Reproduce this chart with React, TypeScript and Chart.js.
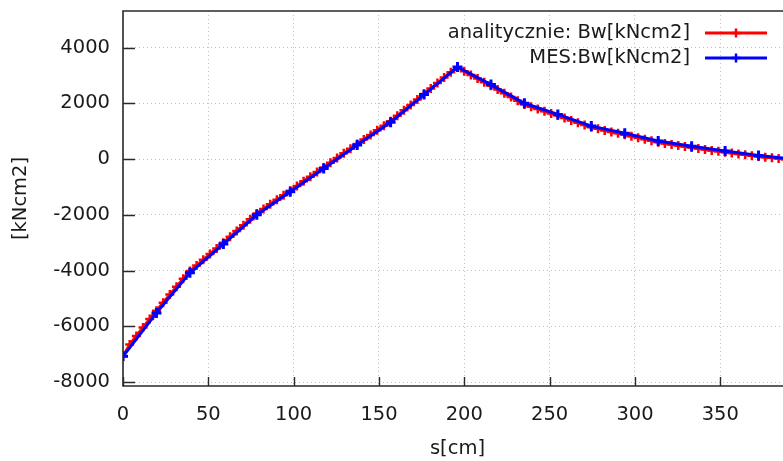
import React, { useEffect, useRef } from "react";
import { Chart, registerables } from "chart.js";

Chart.register(...registerables);

// ---- data ----
const sAnalytic = [
  0, 3.92, 7.84, 11.76, 15.68, 19.6, 23.52, 27.44, 31.36, 35.28, 39.2, 43.12, 47.04, 50.96, 54.88,
  58.8, 62.72, 66.64, 70.56, 74.48, 78.4, 82.32, 86.24, 90.16, 94.08, 98, 101.92, 105.84, 109.76,
  113.68, 117.6, 121.52, 125.44, 129.36, 133.28, 137.2, 141.12, 145.04, 148.96, 152.88, 156.8,
  160.72, 164.64, 168.56, 172.48, 176.4, 180.32, 184.24, 188.16, 192.08, 196, 199.92, 203.84,
  207.76, 211.68, 215.6, 219.52, 223.44, 227.36, 231.28, 235.2, 239.12, 243.04, 246.96, 250.88,
  254.8, 258.72, 262.64, 266.56, 270.48, 274.4, 278.32, 282.24, 286.16, 290.08, 294, 297.92,
  301.84, 305.76, 309.68, 313.6, 317.52, 321.44, 325.36, 329.28, 333.2, 337.12, 341.04, 344.96,
  348.88, 352.8, 356.72, 360.64, 364.56, 368.48, 372.4, 376.32, 380.24, 384.16, 388.08, 392,
];
const bwAnalytic = [
  -7080, -6654, -6348, -6042, -5736, -5440, -5152, -4864, -4581, -4298, -4020, -3824, -3618,
  -3412, -3206, -3000, -2790, -2582, -2372, -2162, -1955, -1791, -1626, -1462, -1297, -1135,
  -968, -801, -634, -468, -301, -132, 36, 203, 371, 538, 700, 864, 1028, 1190, 1354, 1550, 1746,
  1942, 2138, 2334, 2528, 2724, 2920, 3114, 3290, 3150, 3015, 2885, 2755, 2629, 2490, 2355,
  2222, 2090, 1960, 1875, 1792, 1712, 1635, 1560, 1472, 1386, 1302, 1220, 1140, 1082, 1026, 971,
  920, 870, 814, 760, 705, 652, 600, 560, 521, 483, 446, 410, 375, 341, 308, 276, 245, 213, 182,
  151, 120, 90, 66, 42, 18, -6, -30,
];
const sMES = [
  0, 19.6, 39.2, 58.8, 78.4, 98, 117.6, 137.2, 156.8, 176.4, 196, 215.6, 235.2, 254.8, 274.4,
  294, 313.6, 333.2, 352.8, 372.4, 392,
];
const bwMES = [
  -7080, -5520, -4080, -3050, -2000, -1178, -343, 500, 1321, 2310, 3300, 2670, 2000, 1600, 1180,
  925, 645, 455, 286, 130, 0,
];
const xTicks = [0, 50, 100, 150, 200, 250, 300, 350];
const yTicks = [-8000, -6000, -4000, -2000, 0, 2000, 4000];
const seriesLabels = ["analitycznie: Bw[kNcm2]", "MES:Bw[kNcm2]"];
const seriesColors = ["#ff0000", "#0000ff"];
const xTitle = "s[cm]";
const yTitle = "[kNcm2]";

const FONT = '"DejaVu Sans", Verdana, sans-serif';
const FSIZE = 19.5;

const framePlugin = {
  id: "gpFrame",
  afterDatasetsDraw(chart: any) {
    const { ctx, chartArea: a, scales } = chart;
    ctx.save();
    ctx.strokeStyle = "#2a2a2a";
    ctx.lineWidth = 1.6;
    ctx.beginPath();
    ctx.moveTo(a.left, a.top);
    ctx.lineTo(a.right, a.top);
    ctx.lineTo(a.right, a.bottom);
    ctx.lineTo(a.left, a.bottom);
    ctx.closePath();
    ctx.stroke();
    ctx.lineWidth = 1.4;
    ctx.beginPath();
    for (const v of yTicks) {
      const y = Math.round(scales.y.getPixelForValue(v)) + 0.5;
      ctx.moveTo(a.left, y);
      ctx.lineTo(a.left + 12, y);
    }
    for (const v of xTicks) {
      const x = Math.round(scales.x.getPixelForValue(v)) + 0.5;
      ctx.moveTo(x, a.bottom);
      ctx.lineTo(x, a.bottom - 9);
    }
    ctx.stroke();
    ctx.restore();
  },
  afterDraw(chart: any) {
    const { ctx, chartArea: a } = chart;
    ctx.save();
    ctx.font = `${FSIZE}px ${FONT}`;
    ctx.textAlign = "right";
    ctx.textBaseline = "middle";
    seriesLabels.forEach((lab, i) => {
      const y = a.top + 22 + i * 25;
      ctx.fillStyle = "#1a1a1a";
      ctx.fillText(lab, a.right - 102, y);
      ctx.strokeStyle = seriesColors[i];
      ctx.lineWidth = 3;
      ctx.beginPath();
      ctx.moveTo(a.right - 87, y);
      ctx.lineTo(a.right - 25, y);
      ctx.stroke();
      const cx = a.right - 56;
      ctx.lineWidth = 2.5;
      ctx.beginPath();
      ctx.moveTo(cx - 4.5, y);
      ctx.lineTo(cx + 4.5, y);
      ctx.moveTo(cx, y - 4.5);
      ctx.lineTo(cx, y + 4.5);
      ctx.stroke();
    });
    ctx.restore();
  },
};

export default function App() {
  const ref = useRef<HTMLCanvasElement | null>(null);
  useEffect(() => {
    if (!ref.current) return;
    const chart = new Chart(ref.current, {
      type: "line",
      data: {
        datasets: [
          {
            label: seriesLabels[0],
            data: sAnalytic.map((s, i) => ({ x: s, y: bwAnalytic[i] })),
            borderColor: seriesColors[0],
            backgroundColor: seriesColors[0],
            borderWidth: 3,
            pointStyle: "cross",
            pointRadius: 4.5,
            pointBorderWidth: 2.5,
            pointBorderColor: seriesColors[0],
            order: 2,
          },
          {
            label: seriesLabels[1],
            data: sMES.map((s, i) => ({ x: s, y: bwMES[i] })),
            borderColor: seriesColors[1],
            backgroundColor: seriesColors[1],
            borderWidth: 3,
            pointStyle: "cross",
            pointRadius: 5,
            pointBorderWidth: 3,
            pointBorderColor: seriesColors[1],
            order: 1,
          },
        ],
      },
      options: {
        animation: false,
        responsive: false,
        maintainAspectRatio: false,
        layout: { padding: { top: 11, right: 8, bottom: 0, left: 0 } },
        plugins: {
          legend: { display: false },
          tooltip: { enabled: false },
        },
        scales: {
          x: {
            type: "linear",
            min: 0,
            max: 392,
            afterBuildTicks: (s: any) => {
              s.ticks = xTicks.map((v) => ({ value: v }));
            },
            afterFit: (s: any) => {
              s.height = 75;
              s.paddingLeft = 0;
              s.paddingRight = 0;
            },
            ticks: {
              padding: 17,
              color: "#1a1a1a",
              font: { family: FONT, size: FSIZE },
              maxRotation: 0,
              callback: (v: any) => String(v),
            },
            grid: {
              color: "#c0c0c0",
              lineWidth: 1,
              drawTicks: false,
            },
            border: { display: false, dash: [1, 3] },
            title: {
              display: true,
              text: xTitle,
              color: "#1a1a1a",
              font: { family: FONT, size: FSIZE },
              padding: { top: 0, bottom: 0 },
            },
          },
          y: {
            type: "linear",
            min: -8143,
            max: 5310,
            afterBuildTicks: (s: any) => {
              s.ticks = yTicks.map((v) => ({ value: v }));
            },
            afterFit: (s: any) => {
              s.width = 123;
              s.paddingTop = 0;
              s.paddingBottom = 0;
            },
            ticks: {
              padding: 13,
              color: "#1a1a1a",
              font: { family: FONT, size: FSIZE },
              callback: (v: any) => String(v),
            },
            grid: {
              color: "#c0c0c0",
              lineWidth: 1,
              drawTicks: false,
            },
            border: { display: false, dash: [1, 3] },
            title: {
              display: true,
              text: yTitle,
              color: "#1a1a1a",
              font: { family: FONT, size: FSIZE },
              padding: { top: 9, bottom: 0 },
            },
          },
        },
      },
      plugins: [framePlugin],
    });
    return () => chart.destroy();
  }, []);

  return (
    <div
      style={{
        position: "fixed",
        left: 0,
        top: 0,
        width: 783,
        height: 461,
        overflow: "hidden",
        background: "#fff",
      }}
    >
      <canvas ref={ref} width={800} height={461} style={{ width: 800, height: 461, display: "block" }} />
    </div>
  );
}
